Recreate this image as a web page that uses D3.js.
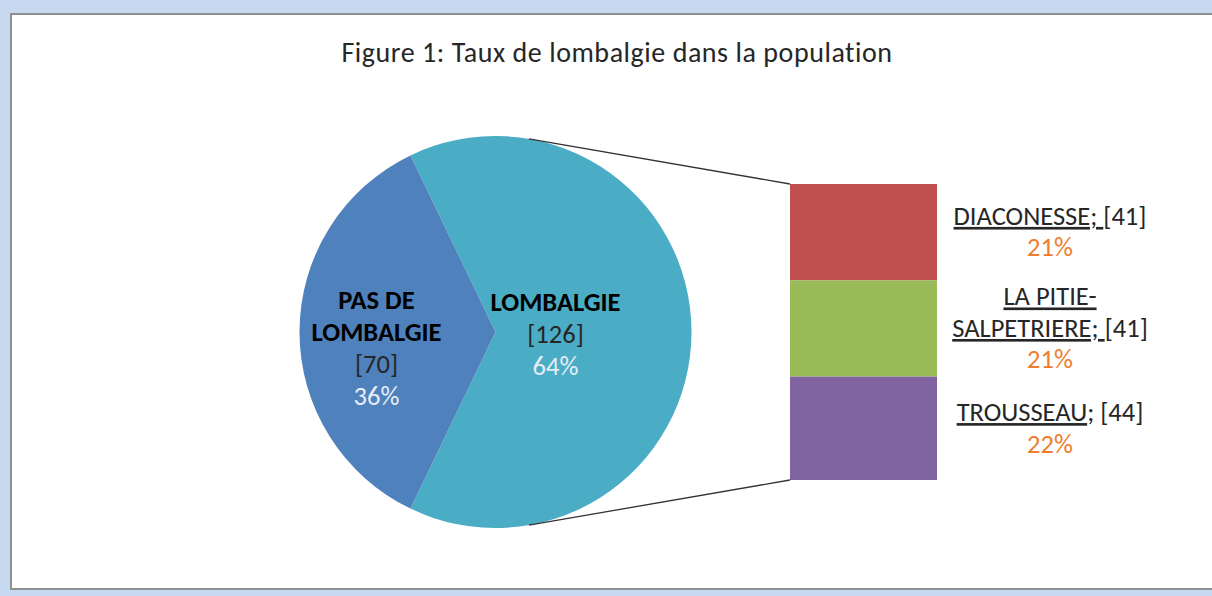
<!DOCTYPE html>
<meta charset="utf-8">
<script src="https://d3js.org/d3.v7.min.js"></script>
<style>
  body { margin: 0; background: #c6d9f1; overflow: hidden; }
  svg { display: block; }
  text { font-family: Calibri, Carlito, Lato, sans-serif; }
</style>
<div id="chart"></div>
<script>

// main pie
const mainCats = ["LOMBALGIE", "PAS DE LOMBALGIE"];
const mainVals = [126, 70];
const mainLines = [["LOMBALGIE"], ["PAS DE", "LOMBALGIE"]];

// split slice (bar of pie)
const subCats = ["DIACONESSE", "LA PITIE-SALPETRIERE", "TROUSSEAU"];
const subVals = [41, 41, 44];
// label lines: [underlined part, plain part]
const subLines = [
  [["DIACONESSE; ", "[41]"]],
  [["LA PITIE-", ""], ["SALPETRIERE; ", "[41]"]],
  [["TROUSSEAU", "; [44]"]]
];

const title = "Figure 1: Taux de lombalgie dans la population";

const W = 1212, H = 596;
const mainColors = ["#4bacc6", "#4f81bd"];
const subColors = ["#c0504d", "#9bbb59", "#8064a2"];
const total = d3.sum(mainVals);
const pct = d3.format(".0%");

const svg = d3.select("#chart").append("svg")
  .attr("width", W).attr("height", H);

// chart area frame (right side runs off the picture)
svg.append("rect")
  .attr("x", 11).attr("y", 14)
  .attr("width", W + 30).attr("height", 575)
  .attr("fill", "#fff")
  .attr("stroke", "#8f8f8f")
  .attr("stroke-width", 2);

svg.append("text")
  .attr("x", 617).attr("y", 62)
  .attr("text-anchor", "middle")
  .attr("font-size", 28)
  .attr("letter-spacing", 0.55)
  .attr("fill", "#262626")
  .text(title);

// pie
const cx = 495.5, cy = 332, r = 196;
const a0 = Math.PI / 2 - Math.PI * mainVals[0] / total;
const pie = d3.pie().sort(null).startAngle(a0).endAngle(a0 + 2 * Math.PI);
const arcs = pie(mainVals);
const arc = d3.arc().innerRadius(0).outerRadius(r);

const g = svg.append("g").attr("transform", `translate(${cx},${cy})`);
g.selectAll("path")
  .data(arcs)
  .join("path")
    .attr("d", arc)
    .attr("fill", (d, i) => mainColors[i]);

// bar
const barX = 790, barW = 147;
const y = d3.scaleLinear().domain([0, mainVals[0]]).range([184, 480]);
const stack = d3.cumsum(subVals);
const segs = subVals.map((v, i) => ({v, y0: stack[i] - v, y1: stack[i], i}));

svg.append("g").selectAll("rect")
  .data(segs)
  .join("rect")
    .attr("x", barX)
    .attr("y", d => y(d.y0))
    .attr("width", barW)
    .attr("height", d => y(d.y1) - y(d.y0))
    .attr("fill", d => subColors[d.i]);

// connector lines: tangent from bar corners to the pie circle
function tangent(px, py, side) {
  const dx = px - cx, dy = py - cy;
  const d = Math.hypot(dx, dy);
  const th = Math.atan2(dy, dx) + side * Math.acos(r / d);
  return [cx + r * Math.cos(th), cy + r * Math.sin(th)];
}
[[y(0), -1], [y(mainVals[0]), 1]].forEach(([py, s]) => {
  const t = tangent(barX, py, s);
  svg.append("line")
    .attr("x1", t[0]).attr("y1", t[1])
    .attr("x2", barX).attr("y2", py)
    .attr("stroke", "#333")
    .attr("stroke-width", 1.3);
});

// pie labels
const labelPos = [[60, 2], [-119, 16]];
const lh = 32;
arcs.forEach((a, i) => {
  const lines = mainLines[i].map(t => ({t, bold: true}))
    .concat([{t: `[${mainVals[i]}]`, fill: "#262626"}, {t: pct(mainVals[i] / total), fill: "#e4edf7"}]);
  const t = svg.append("text")
    .attr("text-anchor", "middle")
    .attr("font-size", 26.5);
  const x0 = cx + labelPos[i][0];
  const yTop = cy + labelPos[i][1] - (lines.length - 1) / 2 * lh + 8.5;
  lines.forEach((l, k) => {
    t.append("tspan")
      .attr("x", x0)
      .attr("y", yTop + k * lh)
      .attr("font-weight", l.bold ? "bold" : null)
      .attr("fill", l.fill || "#000")
      .text(l.t);
  });
});

// bar labels
const lx = 1050, slh = 31.5;
segs.forEach((s, i) => {
  const lines = subLines[i].concat([[null, pct(subVals[i] / total)]]);
  const mid = (y(s.y0) + y(s.y1)) / 2;
  const yTop = mid - (lines.length - 1) / 2 * slh + 8.5;
  const t = svg.append("text")
    .attr("text-anchor", "middle")
    .attr("font-size", 26.5);
  lines.forEach((l, k) => {
    const isPct = l[0] === null;
    const ts = t.append("tspan")
      .attr("x", lx)
      .attr("y", yTop + k * slh);
    if (!isPct) {
      ts.append("tspan")
        .attr("fill", "#262626")
        .attr("text-decoration", "underline")
        .text(l[0]);
      if (l[1]) ts.append("tspan").attr("fill", "#262626").text(l[1]);
    } else {
      ts.attr("fill", "#ef7d2d").text(l[1]);
    }
  });
});

</script>
